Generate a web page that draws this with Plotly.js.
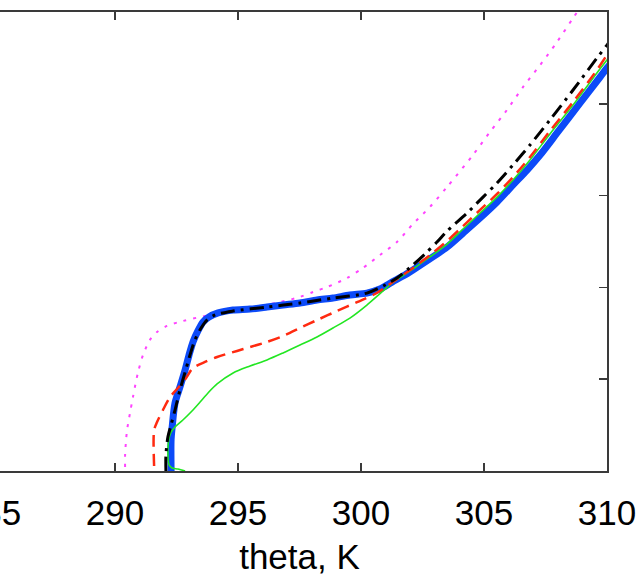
<!DOCTYPE html>
<html>
<head>
<meta charset="utf-8">
<script src="https://cdn.plot.ly/plotly-3.0.1.min.js"></script>
<style>
html,body{margin:0;padding:0;overflow:hidden;background:#fff;width:640px;height:579px;}
#chart{position:absolute;left:-100px;top:0;width:740px;height:579px;}
</style>
</head>
<body>
<div id="chart"></div>
<script>
// theta (K) and height (m) for each profile
const blueTheta = [292.28,292.28,292.32,292.44,292.64,292.85,293.01,293.17,293.37,293.58,293.82,294.19,294.80,295.49,296.18,296.83,297.52,298.21,298.86,299.55,300.24,300.77,301.26,301.71,302.11,302.80,303.50,304.15,304.84,305.53,306.18,306.75,307.28,307.97,308.90,309.72,310.00,310.53];
const blueZ     = [0,169,234,370,457,550,632,703,763,812,839,861,877,882,893,904,915,931,942,959,969,991,1029,1062,1095,1155,1220,1296,1378,1465,1558,1639,1721,1841,2004,2146,2195,2282];

const blackTheta = [292.07,292.07,292.15,292.28,292.44,292.64,292.85,293.05,293.25,293.50,293.74,294.07,294.80,296.18,297.52,298.86,300.24,300.98,301.46,302.11,302.60,303.09,303.50,304.31,304.96,305.53,306.18,306.87,307.68,308.62,309.59,310.00,310.41];
const blackZ     = [0,87,185,251,332,441,539,632,714,779,822,850,871,893,915,942,969,1013,1051,1122,1182,1247,1307,1405,1492,1569,1667,1776,1912,2075,2249,2320,2391];

const redTheta = [291.59,291.59,291.71,291.95,292.24,292.56,292.89,293.17,293.66,294.15,294.96,295.49,296.18,296.83,297.52,298.21,299.02,299.84,300.57,301.18,301.59,302.11,302.80,303.50,304.15,304.84,305.53,306.18,306.87,307.68,308.62,309.59,310.00,310.41];
const redZ     = [27,223,267,332,403,452,507,561,594,621,654,675,703,735,779,822,871,920,964,1019,1057,1106,1176,1253,1334,1422,1509,1601,1710,1852,2010,2184,2266,2337];

const greenTheta = [292.85,292.56,292.32,292.20,292.15,292.20,292.28,292.44,292.76,293.13,293.46,293.78,294.15,294.80,295.49,296.18,296.83,297.52,298.21,298.86,299.55,300.24,300.89,301.38,302.11,302.80,303.50,304.15,304.84,305.53,306.18,306.87,307.68,308.62,309.59,310.00,310.41];
const greenZ     = [0,11,16,33,114,180,212,240,278,327,376,425,474,534,572,605,643,686,730,779,833,904,980,1035,1100,1166,1236,1318,1405,1492,1585,1694,1836,1993,2168,2239,2309];

const magTheta = [290.41,290.41,290.45,290.49,290.61,290.73,290.93,291.14,291.42,291.71,292.11,292.76,293.86,295.49,296.71,297.52,298.05,298.62,299.43,300.08,300.77,301.46,302.11,302.80,303.50,304.55,305.24,305.93,306.59,307.28,307.97,308.62,308.90];
const magZ     = [22,87,169,223,316,403,534,632,714,757,790,817,850,888,920,948,975,1002,1051,1106,1176,1247,1345,1438,1547,1721,1846,1966,2092,2211,2337,2467,2522];

const xTicks = [285,290,295,300,305,310];
const xTickText = ['285','290','295','300','305','310'];
const yTicks = [0,500,1000,1500,2000,2500];

const sm = 0.8;
const traces = [
  {x: magTheta, y: magZ, mode:'lines', line:{color:'#ff44ff', width:2, dash:'3px,7px', shape:'spline', smoothing:sm}},
  {x: blueTheta, y: blueZ, mode:'lines', line:{color:'#0c4af8', width:7, shape:'spline', smoothing:sm}},
  {x: greenTheta, y: greenZ, mode:'lines', line:{color:'#22e622', width:1.6, shape:'spline', smoothing:sm}},
  {x: redTheta, y: redZ, mode:'lines', line:{color:'#ff2a10', width:2.5, dash:'12px,7px', shape:'spline', smoothing:sm}},
  {x: blackTheta, y: blackZ, mode:'lines', line:{color:'#000000', width:3, dash:'14px,6px,3px,6px', shape:'spline', smoothing:sm}}
];

const axisCommon = {
  showline:true, mirror:'ticks', linecolor:'#3a3a3a', linewidth:2,
  ticks:'inside', ticklen:8, tickwidth:1.5, tickcolor:'#3a3a3a',
  showgrid:false, zeroline:false
};

const layout = {
  width:740, height:579,
  margin:{l:92, r:33, t:12, b:108},
  paper_bgcolor:'#ffffff', plot_bgcolor:'#ffffff',
  showlegend:false,
  font:{family:'Liberation Sans, Arial, sans-serif', color:'#000'},
  xaxis: Object.assign({}, axisCommon, {
    range:[285,310], tickvals:xTicks, ticktext:xTickText,
    ticklabelstandoff:10,
    tickfont:{size:35, family:'Liberation Sans, Arial, sans-serif', color:'#000'},
    title:{text:'theta, K', font:{size:35, family:'Liberation Sans, Arial, sans-serif', color:'#000'}, standoff:13}
  }),
  yaxis: Object.assign({}, axisCommon, {
    range:[0,2500], tickvals:yTicks, showticklabels:false
  })
};

Plotly.newPlot('chart', traces, layout, {staticPlot:true, displayModeBar:false});
</script>
</body>
</html>
